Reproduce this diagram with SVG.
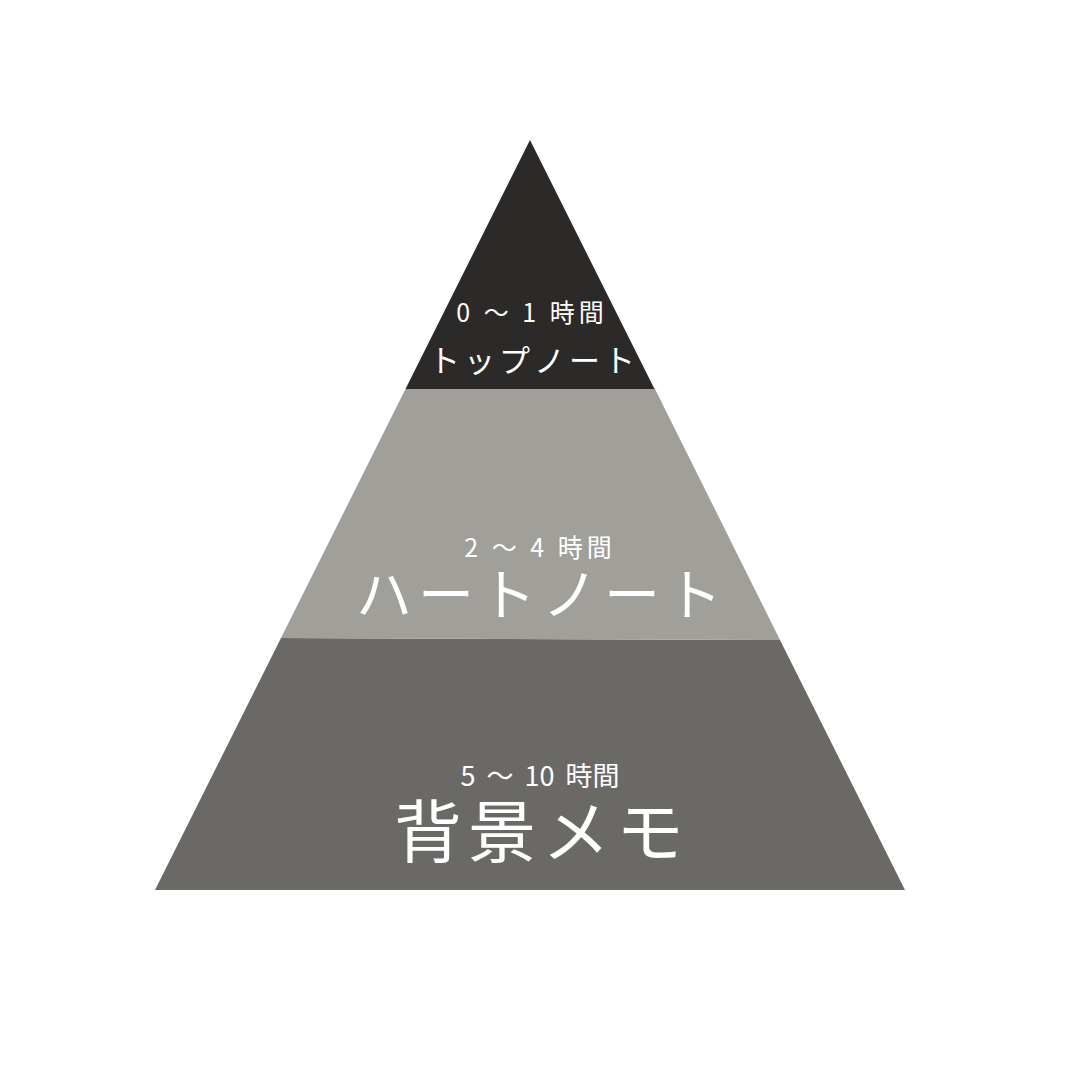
<svg xmlns="http://www.w3.org/2000/svg" width="1080" height="1080" viewBox="0 0 1080 1080">
<style>
text{font-family:"Noto Sans CJK JP","Noto Sans",sans-serif;fill:#ffffff;text-anchor:middle}
.sub{font-size:25px;letter-spacing:4px}
</style>
<rect width="1080" height="1080" fill="#ffffff"/>
<g id="bottom">
<polygon points="281,638 780,640 905,890 155,890" fill="#6b6965"/>
<text x="540" y="786" font-size="27" word-spacing="5">5 ～ 10 時間</text>
<text x="542" y="857" font-size="68" letter-spacing="6">背景メモ</text>
</g>
<g id="middle">
<polygon points="405.5,389 654.5,388 780,640 281,638" fill="#a09f9a"/>
<text class="sub" x="540" y="557">2 ～ 4 時間</text>
<text x="542" y="615" font-size="56" letter-spacing="6">ハートノート</text>
</g>
<g id="top">
<polygon points="530,140 654.5,389 405.5,389" fill="#2b2a28"/>
<text class="sub" x="532" y="322">0 ～ 1 時間</text>
<text x="534" y="372" font-size="31" letter-spacing="4">トップノート</text>
</g>
</svg>
